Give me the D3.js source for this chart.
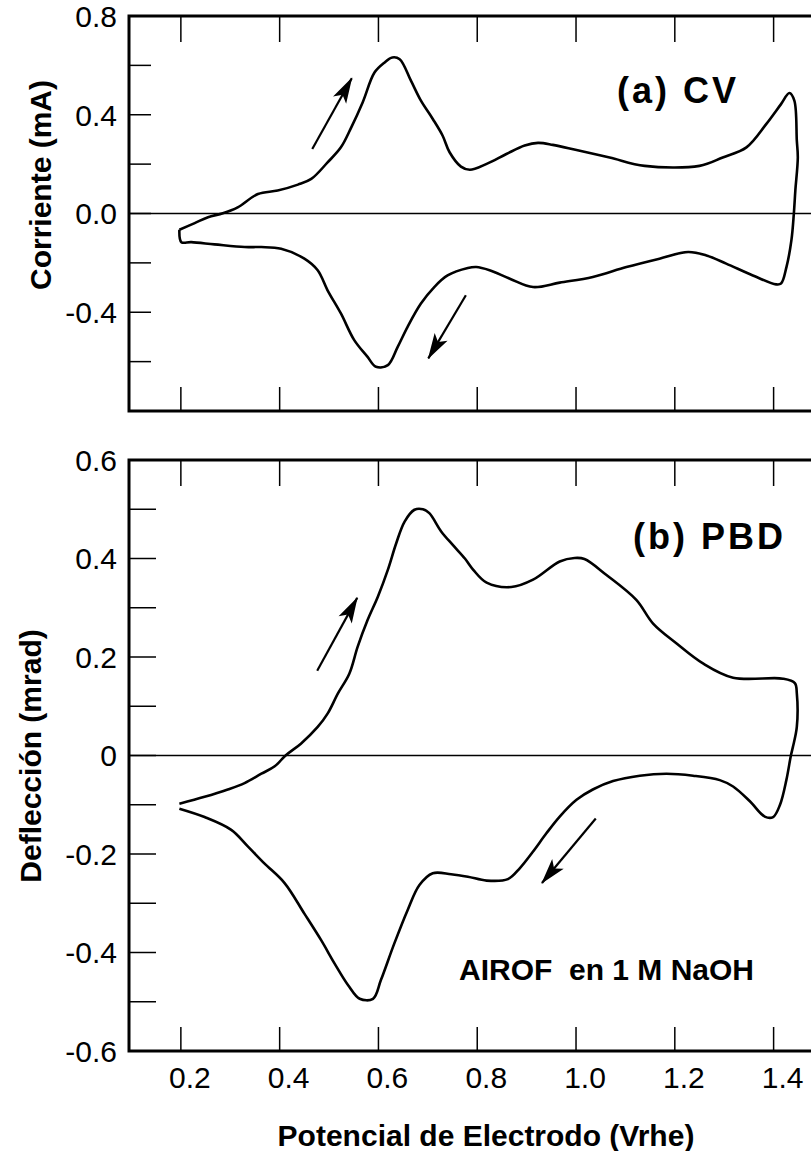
<!DOCTYPE html>
<html>
<head>
<meta charset="utf-8">
<script src="https://cdn.jsdelivr.net/npm/d3@7"></script>
<style>
body { margin: 0; background: #fff; }
text { font-family: "Liberation Sans", Arial, sans-serif; fill: #000; }
</style>
</head>
<body>
<script>
// Stage
let width = 811;
let height = 1151;

let svg = d3.select("body")
            .append("svg")
            .attr("width", width)
            .attr("height", height);

// ---- data ----
let xTicks = [0.2, 0.4, 0.6, 0.8, 1.0, 1.2, 1.4];

let cvTicks = [-0.6, -0.4, -0.2, 0.0, 0.2, 0.4, 0.6];
let cvLabels = [0.8, 0.4, 0.0, -0.4];
let pbdTicks = [-0.5, -0.4, -0.3, -0.2, -0.1, 0.0, 0.1, 0.2, 0.3, 0.4, 0.5];
let pbdLabels = [0.6, 0.4, 0.2, 0, -0.2, -0.4, -0.6];

// CV loop: potential (V) and current (mA), anodic sweep then cathodic sweep
let cvPotential = [0.197, 0.228, 0.255, 0.285, 0.315, 0.356, 0.396, 0.437, 0.464, 0.497,
                   0.524, 0.545, 0.568, 0.592, 0.612, 0.628, 0.643, 0.666, 0.686, 0.710,
                   0.730, 0.744, 0.767, 0.785, 0.819, 0.859, 0.896, 0.923, 0.953, 1.001,
                   1.068, 1.139, 1.250, 1.297, 1.345, 1.385, 1.415, 1.432, 1.442, 1.447,
                   1.449, 1.444, 1.441, 1.436, 1.426, 1.415, 1.405, 1.358, 1.304, 1.264,
                   1.227, 1.169, 1.102, 1.034, 0.967, 0.913, 0.866, 0.825, 0.798, 0.781,
                   0.740, 0.713, 0.686, 0.659, 0.639, 0.619, 0.595, 0.578, 0.551, 0.524,
                   0.497, 0.477, 0.450, 0.403, 0.363, 0.329, 0.268, 0.221, 0.201, 0.197];
let cvCurrent = [-0.066, -0.039, -0.015, 0.001, 0.025, 0.079, 0.093, 0.117, 0.140, 0.207,
                 0.268, 0.349, 0.450, 0.571, 0.611, 0.632, 0.625, 0.537, 0.457, 0.383,
                 0.315, 0.248, 0.190, 0.177, 0.201, 0.241, 0.275, 0.286, 0.278, 0.257,
                 0.227, 0.193, 0.193, 0.227, 0.268, 0.362, 0.443, 0.488, 0.457, 0.295,
                 0.227, 0.093, 0.000, -0.109, -0.217, -0.284, -0.287, -0.251, -0.203, -0.170,
                 -0.156, -0.183, -0.217, -0.257, -0.280, -0.298, -0.264, -0.230, -0.217, -0.221,
                 -0.251, -0.298, -0.365, -0.459, -0.540, -0.614, -0.621, -0.581, -0.513, -0.405,
                 -0.311, -0.230, -0.183, -0.143, -0.136, -0.136, -0.125, -0.116, -0.116, -0.066];

// PBD loop: potential (V) and deflection (mrad)
let pbdPotential = [0.197, 0.248, 0.295, 0.329, 0.363, 0.390, 0.412, 0.443, 0.477, 0.497,
                    0.518, 0.541, 0.558, 0.578, 0.599, 0.619, 0.636, 0.653, 0.673, 0.690,
                    0.703, 0.727, 0.750, 0.775, 0.792, 0.819, 0.869, 0.913, 0.967, 0.997,
                    1.017, 1.061, 1.122, 1.156, 1.203, 1.257, 1.318, 1.419, 1.443, 1.447,
                    1.447, 1.439, 1.435, 1.426, 1.413, 1.399, 1.382, 1.352, 1.318, 1.291,
                    1.237, 1.183, 1.129, 1.075, 1.034, 1.001, 0.967, 0.940, 0.913, 0.886,
                    0.862, 0.819, 0.781, 0.747, 0.710, 0.683, 0.659, 0.632, 0.605, 0.589,
                    0.562, 0.539, 0.511, 0.484, 0.450, 0.410, 0.369, 0.336, 0.302, 0.248,
                    0.197];
let pbdDeflection = [-0.098, -0.084, -0.069, -0.056, -0.037, -0.022, 0.000, 0.024, 0.058, 0.085,
                     0.126, 0.166, 0.221, 0.275, 0.323, 0.377, 0.431, 0.475, 0.499, 0.500,
                     0.492, 0.455, 0.428, 0.400, 0.377, 0.351, 0.342, 0.357, 0.394, 0.401,
                     0.399, 0.367, 0.316, 0.268, 0.228, 0.187, 0.158, 0.156, 0.147, 0.126,
                     0.058, 0.017, 0.000, -0.049, -0.100, -0.125, -0.124, -0.093, -0.063, -0.050,
                     -0.041, -0.037, -0.041, -0.052, -0.069, -0.090, -0.124, -0.158, -0.195, -0.229,
                     -0.251, -0.254, -0.246, -0.241, -0.239, -0.263, -0.314, -0.382, -0.456, -0.494,
                     -0.494, -0.467, -0.422, -0.375, -0.321, -0.259, -0.219, -0.185, -0.151, -0.125,
                     -0.108];

// sweep direction arrows [E tail, value tail, E tip, value tip]
let cvArrows = [[0.466, 0.261, 0.546, 0.548], [0.777, -0.331, 0.701, -0.587]];
let pbdArrows = [[0.476, 0.172, 0.557, 0.320], [1.040, -0.128, 0.931, -0.259]];

// ---- scales ----
let left = 129;
let right = 823;

let x = d3.scaleLinear().domain([0.095, 1.5]).range([left, right]);
let yA = d3.scaleLinear().domain([-0.8, 0.8]).range([411, 16]);
let yB = d3.scaleLinear().domain([-0.6, 0.6]).range([1051, 460]);

let fmt = d => d.toFixed(1);
let fmtB = d => (d === 0 ? "0" : d.toFixed(1));

// arrow head
svg.append("defs").append("marker")
    .attr("id", "head")
    .attr("markerUnits", "userSpaceOnUse")
    .attr("viewBox", "-28 -9 30 18")
    .attr("markerWidth", 30)
    .attr("markerHeight", 18)
    .attr("refX", 0)
    .attr("refY", 0)
    .attr("orient", "auto")
    .append("path")
    .attr("d", "M1,0 L-25,-7.5 L-19,0 L-25,7.5 Z")
    .attr("fill", "#000");

function drawPanel(y, ticks, labels, format, yTickLen, potential, values, arrows) {
    let g = svg.append("g");
    let top = y.range()[1];
    let bottom = y.range()[0];

    // zero line
    g.append("line")
        .attr("x1", left).attr("x2", right)
        .attr("y1", y(0)).attr("y2", y(0))
        .attr("stroke", "#000").attr("stroke-width", 1.3);

    // x ticks, top and bottom, pointing inward
    g.selectAll(".xt-top").data(xTicks).enter().append("line")
        .attr("x1", d => x(d)).attr("x2", d => x(d))
        .attr("y1", top).attr("y2", top + 26)
        .attr("stroke", "#000").attr("stroke-width", 1.5);
    g.selectAll(".xt-bot").data(xTicks).enter().append("line")
        .attr("x1", d => x(d)).attr("x2", d => x(d))
        .attr("y1", bottom).attr("y2", bottom - 24)
        .attr("stroke", "#000").attr("stroke-width", 1.5);

    // y ticks
    g.selectAll(".yt").data(ticks).enter().append("line")
        .attr("x1", left).attr("x2", left + yTickLen)
        .attr("y1", d => y(d)).attr("y2", d => y(d))
        .attr("stroke", "#000").attr("stroke-width", 1.5);

    // y labels
    g.selectAll(".yl").data(labels).enter().append("text")
        .attr("x", left - 12)
        .attr("y", d => y(d))
        .attr("dy", "0.36em")
        .attr("text-anchor", "end")
        .style("font-size", "30px")
        .text(format);

    // frame
    g.append("path")
        .attr("d", "M" + (right + 5) + "," + top + "H" + left + "V" + bottom + "H" + (right + 5))
        .attr("fill", "none").attr("stroke", "#000").attr("stroke-width", 3);

    // loop
    let pts = potential.map((e, i) => [e, values[i]]);
    let line = d3.line()
        .x(d => x(d[0]))
        .y(d => y(d[1]))
        .curve(d3.curveCatmullRom.alpha(0.5));
    g.append("path")
        .attr("d", line(pts))
        .attr("fill", "none")
        .attr("stroke", "#000")
        .attr("stroke-width", 2.6)
        .attr("stroke-linejoin", "round");

    // arrows
    g.selectAll(".arr").data(arrows).enter().append("line")
        .attr("x1", d => x(d[0])).attr("y1", d => y(d[1]))
        .attr("x2", d => x(d[2])).attr("y2", d => y(d[3]))
        .attr("stroke", "#000").attr("stroke-width", 2.2)
        .attr("marker-end", "url(#head)");
}

drawPanel(yA, cvTicks, cvLabels, fmt, 22, cvPotential, cvCurrent, cvArrows);
drawPanel(yB, pbdTicks, pbdLabels, fmtB, 27, pbdPotential, pbdDeflection, pbdArrows);

// x labels under panel b
svg.selectAll(".xl").data(xTicks).enter().append("text")
    .attr("x", d => x(d) + 9)
    .attr("y", 1088)
    .attr("text-anchor", "middle")
    .style("font-size", "30px")
    .text(d => d.toFixed(1));

// titles and annotations
svg.append("text")
    .attr("transform", "translate(51,185) rotate(-90)")
    .attr("text-anchor", "middle")
    .style("font-size", "30px").style("font-weight", "bold")
    .text("Corriente (mA)");

svg.append("text")
    .attr("transform", "translate(41,756) rotate(-90)")
    .attr("text-anchor", "middle")
    .style("font-size", "30px").style("font-weight", "bold")
    .text("Deflección (mrad)");

svg.append("text")
    .attr("x", 486).attr("y", 1146)
    .attr("text-anchor", "middle")
    .style("font-size", "30px").style("font-weight", "bold")
    .text("Potencial de Electrodo (Vrhe)");

svg.append("text")
    .attr("x", 617).attr("y", 103)
    .style("font-size", "36px").style("font-weight", "bold").style("letter-spacing", "3px")
    .text("(a) CV");

svg.append("text")
    .attr("x", 633).attr("y", 549)
    .style("font-size", "36px").style("font-weight", "bold").style("letter-spacing", "3px")
    .text("(b) PBD");

svg.append("text")
    .attr("x", 459).attr("y", 980)
    .style("font-size", "30px").style("font-weight", "bold").style("white-space", "pre")
    .text("AIROF  en 1 M NaOH");
</script>
</body>
</html>
